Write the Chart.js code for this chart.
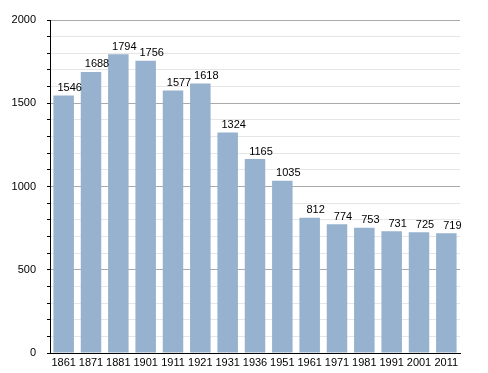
<!DOCTYPE html>
<html>
<head>
<meta charset="utf-8">
<script src="https://cdn.jsdelivr.net/npm/chart.js@4.4.1/dist/chart.umd.min.js"></script>
<style>
  html, body { margin: 0; padding: 0; background: #fff; }
  #wrap { width: 488px; height: 373px; }
</style>
</head>
<body>
<div id="wrap"><canvas id="bar"></canvas></div>
<script>
var years = ['1861', '1871', '1881', '1901', '1911', '1921', '1931', '1936', '1951', '1961', '1971', '1981', '1991', '2001', '2011'];
var population = [1546, 1688, 1794, 1756, 1577, 1618, 1324, 1165, 1035, 812, 774, 753, 731, 725, 719];
var yMin = 0;
var yMax = 2000;
var yStep = 100;
var yLabelEvery = 500;

Chart.defaults.font.family = '"Liberation Sans", Arial, sans-serif';
Chart.defaults.font.size = 11;
Chart.defaults.color = '#000';

// values written above each bar
var valueLabels = {
    id: 'valueLabels',
    afterDatasetsDraw: function (chart) {
        var ctx = chart.ctx;
        var meta = chart.getDatasetMeta(0);
        ctx.save();
        ctx.font = '11px "Liberation Sans", Arial, sans-serif';
        ctx.fillStyle = '#000';
        ctx.textAlign = 'center';
        ctx.textBaseline = 'bottom';
        meta.data.forEach(function (bar, i) {
            ctx.fillText(population[i], bar.x + 6, bar.y - 2);
        });
        ctx.restore();
    }
};

var ctx = document.getElementById('bar').getContext('2d');
var barChart = new Chart(ctx, {
    type: 'bar',
    data: {
        labels: years,
        datasets: [{
            label: 'Population',
            data: population,
            backgroundColor: 'rgb(150, 178, 206)',
            borderWidth: 0,
            barPercentage: 0.75,
            categoryPercentage: 1.0
        }]
    },
    options: {
        responsive: true,
        maintainAspectRatio: false,
        animation: false,
        layout: { padding: { top: 20, right: 28, left: 0, bottom: 0 } },
        plugins: {
            legend: { display: false },
            tooltip: { enabled: false }
        },
        scales: {
            x: {
                grid: { display: true, drawOnChartArea: false, drawTicks: false },
                border: { color: '#000', width: 1 },
                ticks: { padding: 3, maxRotation: 0, autoSkip: false },
                afterFit: function (axis) { axis.height = 20; }
            },
            y: {
                min: yMin,
                max: yMax,
                border: { color: '#000', width: 1 },
                grid: {
                    color: function (c) {
                        return c.tick && c.tick.value % yLabelEvery === 0 ? '#aaaaaa' : '#e6e6e6';
                    },
                    tickColor: '#000',
                    tickLength: 3
                },
                ticks: {
                    stepSize: yStep,
                    padding: 11,
                    callback: function (v) { return v % yLabelEvery === 0 ? v : ''; }
                },
                afterFit: function (axis) { axis.width = 50; }
            }
        }
    },
    plugins: [valueLabels]
});
</script>
</body>
</html>
